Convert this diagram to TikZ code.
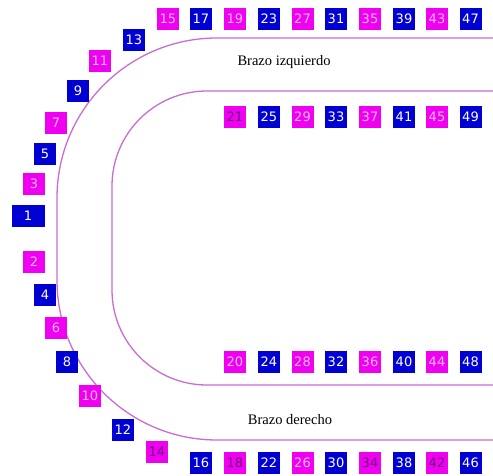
\documentclass[tikz,border=0pt]{standalone}
\usepackage{fontspec}
\setmainfont{Liberation Serif}
\newfontfamily\numfont{DejaVu Sans}
\definecolor{bxblue}{RGB}{0,0,210}
\definecolor{bxmag}{RGB}{240,0,240}
\definecolor{txlight}{RGB}{250,185,250}
\definecolor{txdark}{RGB}{110,20,120}
\definecolor{track}{RGB}{200,110,210}
\tikzset{
  seat/.style={minimum width=22pt, minimum height=22pt, inner sep=0pt, font=\numfont\fontsize{13}{13}\selectfont},
  bseat/.style={seat, fill=bxblue, text=white},
  wseat/.style={bseat, minimum width=33pt},
  mseat/.style={seat, fill=bxmag, text=txlight},
  dseat/.style={seat, fill=bxmag, text=txdark},
  trackline/.style={draw=track, line width=1.3pt},
  lbl/.style={font=\fontsize{14.5}{15}\selectfont, inner sep=0pt}
}
\begin{document}
\begin{tikzpicture}[x=1pt,y=1pt]
\useasboundingbox[fill=white] (0,0) rectangle (493,475);
% track lines
\draw[trackline] (493,437) -- (217,437) arc[start angle=90,end angle=180,radius=160] -- (57,195) arc[start angle=180,end angle=270,radius=160] -- (493,35);
\draw[trackline] (493,384) -- (207,384) arc[start angle=90,end angle=180,radius=95] -- (112,185) arc[start angle=180,end angle=270,radius=95] -- (493,90);
% labels
\node[lbl] (izq) at (284,413) {Brazo izquierdo};
\node[lbl] (der) at (290,55) {Brazo derecho};
% curve seats (odd, upper)
\foreach \n/\x/\y/\s in {1/28/259/wseat, 3/34/291/mseat, 5/45/321/bseat, 7/56/352/mseat, 9/78/384/bseat, 11/100/414/mseat, 13/134/435/bseat}
  \node[\s] (b\n) at (\x,\y) {\n};
% curve seats (even, lower)
\foreach \n/\x/\y/\s in {2/34/213/mseat, 4/45/180/bseat, 6/56/147/mseat, 8/67/113/bseat, 10/90/79/mseat, 12/123/45/bseat, 14/157/23/dseat}
  \node[\s] (b\n) at (\x,\y) {\n};
% top row
\foreach \n/\x/\s in {15/168/mseat, 17/201/bseat, 19/235/mseat, 23/269/bseat, 27/302.5/mseat, 31/336/bseat, 35/370/mseat, 39/404/bseat, 43/437/mseat, 47/470.5/bseat}
  \node[\s] (b\n) at (\x,456) {\n};
% inner top row
\foreach \n/\x/\s in {21/235/dseat, 25/269/bseat, 29/302.5/mseat, 33/336/bseat, 37/370/mseat, 41/404/bseat, 45/437/mseat, 49/470.5/bseat}
  \node[\s] (b\n) at (\x,358) {\n};
% inner bottom row
\foreach \n/\x/\s in {20/235/mseat, 24/269/bseat, 28/302.5/mseat, 32/336/bseat, 36/370/mseat, 40/404/bseat, 44/437/mseat, 48/470.5/bseat}
  \node[\s] (b\n) at (\x,113) {\n};
% bottom row
\foreach \n/\x/\s in {16/201/bseat, 18/235/dseat, 22/269/bseat, 26/302.5/mseat, 30/336/bseat, 34/370/dseat, 38/404/bseat, 42/437/dseat, 46/470.5/bseat}
  \node[\s] (b\n) at (\x,12.5) {\n};
\end{tikzpicture}
\end{document}
